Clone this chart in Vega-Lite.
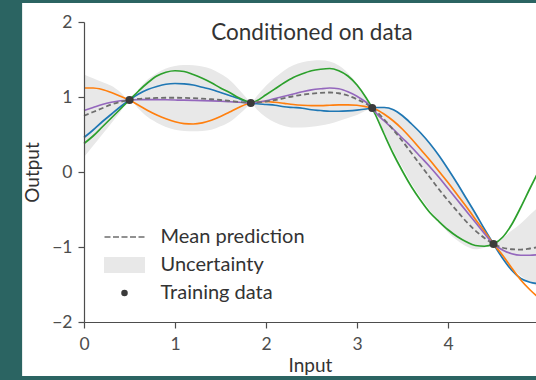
{
  "$schema": "https://vega.github.io/schema/vega-lite/v6.json",
  "width": 452,
  "height": 300,
  "autosize": {"type": "none"},
  "padding": {"left": 84, "top": 22, "right": 0, "bottom": 58},
  "background": "#2b6462",
  "title": {"text": "Conditioned on data", "font": "Lato", "fontSize": 22.5, "fontWeight": "normal", "color": "#333333", "anchor": "middle", "frame": "group", "baseline": "alphabetic", "offset": -19, "dy": 40, "dx": 2, "zindex": 1},
  "config": {
    "font": "Lato",
    "view": {"stroke": null},
    "axis": {"grid": false, "domainColor": "#4d4d4d", "tickColor": "#4d4d4d", "domainWidth": 1.2, "tickWidth": 1.2, "tickSize": 6, "labelFont": "Lato", "labelFontSize": 17.5, "labelColor": "#4d4d4d", "titleFont": "Lato", "titleFontSize": 19, "titleFontWeight": "normal", "titleColor": "#333333", "labelPadding": 6, "labelFlush": false}
  },
  "datasets": {
    "gp": [
      {"x": 0.0, "m": 0.75, "lo": 0.20, "hi": 1.30, "g": 0.38, "b": 0.46, "o": 1.12, "p": 0.82},
      {"x": 0.1, "m": 0.80, "lo": 0.35, "hi": 1.25, "g": 0.48, "b": 0.56, "o": 1.12, "p": 0.86},
      {"x": 0.2, "m": 0.85, "lo": 0.50, "hi": 1.20, "g": 0.60, "b": 0.67, "o": 1.10, "p": 0.90},
      {"x": 0.3, "m": 0.90, "lo": 0.65, "hi": 1.15, "g": 0.72, "b": 0.77, "o": 1.06, "p": 0.93},
      {"x": 0.4, "m": 0.935, "lo": 0.805, "hi": 1.065, "g": 0.84, "b": 0.87, "o": 1.01, "p": 0.95},
      {"x": 0.5, "m": 0.96, "lo": 0.96, "hi": 0.96, "g": 0.96, "b": 0.96, "o": 0.96, "p": 0.96},
      {"x": 0.6, "m": 0.975, "lo": 0.845, "hi": 1.105, "g": 1.08, "b": 1.04, "o": 0.89, "p": 0.965},
      {"x": 0.7, "m": 0.983, "lo": 0.733, "hi": 1.233, "g": 1.19, "b": 1.10, "o": 0.82, "p": 0.965},
      {"x": 0.8, "m": 0.988, "lo": 0.658, "hi": 1.318, "g": 1.28, "b": 1.14, "o": 0.76, "p": 0.965},
      {"x": 0.9, "m": 0.99, "lo": 0.60, "hi": 1.38, "g": 1.33, "b": 1.17, "o": 0.71, "p": 0.963},
      {"x": 1.0, "m": 0.99, "lo": 0.565, "hi": 1.415, "g": 1.35, "b": 1.18, "o": 0.67, "p": 0.96},
      {"x": 1.1, "m": 0.988, "lo": 0.548, "hi": 1.428, "g": 1.34, "b": 1.175, "o": 0.645, "p": 0.958},
      {"x": 1.2, "m": 0.984, "lo": 0.544, "hi": 1.424, "g": 1.30, "b": 1.16, "o": 0.64, "p": 0.955},
      {"x": 1.3, "m": 0.978, "lo": 0.548, "hi": 1.408, "g": 1.25, "b": 1.13, "o": 0.655, "p": 0.952},
      {"x": 1.4, "m": 0.97, "lo": 0.565, "hi": 1.375, "g": 1.19, "b": 1.10, "o": 0.69, "p": 0.948},
      {"x": 1.5, "m": 0.96, "lo": 0.61, "hi": 1.31, "g": 1.12, "b": 1.06, "o": 0.74, "p": 0.943},
      {"x": 1.6, "m": 0.948, "lo": 0.668, "hi": 1.228, "g": 1.06, "b": 1.02, "o": 0.80, "p": 0.937},
      {"x": 1.7, "m": 0.935, "lo": 0.765, "hi": 1.105, "g": 0.99, "b": 0.98, "o": 0.86, "p": 0.93},
      {"x": 1.8, "m": 0.923, "lo": 0.878, "hi": 0.968, "g": 0.935, "b": 0.93, "o": 0.91, "p": 0.922},
      {"x": 1.833, "m": 0.92, "lo": 0.92, "hi": 0.92, "g": 0.92, "b": 0.92, "o": 0.92, "p": 0.92},
      {"x": 1.9, "m": 0.925, "lo": 0.835, "hi": 1.015, "g": 0.95, "b": 0.91, "o": 0.935, "p": 0.93},
      {"x": 2.0, "m": 0.94, "lo": 0.73, "hi": 1.15, "g": 1.03, "b": 0.90, "o": 0.94, "p": 0.95},
      {"x": 2.1, "m": 0.96, "lo": 0.66, "hi": 1.26, "g": 1.11, "b": 0.89, "o": 0.93, "p": 0.98},
      {"x": 2.2, "m": 0.985, "lo": 0.615, "hi": 1.355, "g": 1.19, "b": 0.87, "o": 0.915, "p": 1.01},
      {"x": 2.3, "m": 1.01, "lo": 0.595, "hi": 1.425, "g": 1.26, "b": 0.86, "o": 0.90, "p": 1.04},
      {"x": 2.4, "m": 1.03, "lo": 0.595, "hi": 1.465, "g": 1.31, "b": 0.85, "o": 0.89, "p": 1.07},
      {"x": 2.5, "m": 1.045, "lo": 0.605, "hi": 1.485, "g": 1.35, "b": 0.83, "o": 0.885, "p": 1.095},
      {"x": 2.6, "m": 1.055, "lo": 0.62, "hi": 1.49, "g": 1.37, "b": 0.82, "o": 0.885, "p": 1.11},
      {"x": 2.7, "m": 1.06, "lo": 0.645, "hi": 1.475, "g": 1.38, "b": 0.81, "o": 0.89, "p": 1.12},
      {"x": 2.8, "m": 1.05, "lo": 0.68, "hi": 1.42, "g": 1.35, "b": 0.81, "o": 0.895, "p": 1.11},
      {"x": 2.9, "m": 1.02, "lo": 0.72, "hi": 1.32, "g": 1.28, "b": 0.815, "o": 0.895, "p": 1.07},
      {"x": 3.0, "m": 0.97, "lo": 0.76, "hi": 1.18, "g": 1.16, "b": 0.825, "o": 0.89, "p": 1.01},
      {"x": 3.1, "m": 0.91, "lo": 0.82, "hi": 1.00, "g": 0.99, "b": 0.84, "o": 0.87, "p": 0.93},
      {"x": 3.167, "m": 0.853, "lo": 0.853, "hi": 0.853, "g": 0.853, "b": 0.853, "o": 0.853, "p": 0.853},
      {"x": 3.2, "m": 0.82, "lo": 0.775, "hi": 0.865, "g": 0.77, "b": 0.86, "o": 0.84, "p": 0.80},
      {"x": 3.3, "m": 0.70, "lo": 0.53, "hi": 0.87, "g": 0.50, "b": 0.86, "o": 0.77, "p": 0.68},
      {"x": 3.4, "m": 0.56, "lo": 0.28, "hi": 0.84, "g": 0.24, "b": 0.83, "o": 0.68, "p": 0.57},
      {"x": 3.5, "m": 0.41, "lo": 0.06, "hi": 0.76, "g": 0.01, "b": 0.75, "o": 0.57, "p": 0.45},
      {"x": 3.6, "m": 0.25, "lo": -0.155, "hi": 0.655, "g": -0.20, "b": 0.64, "o": 0.44, "p": 0.33},
      {"x": 3.7, "m": 0.09, "lo": -0.34, "hi": 0.52, "g": -0.38, "b": 0.52, "o": 0.30, "p": 0.20},
      {"x": 3.8, "m": -0.07, "lo": -0.51, "hi": 0.37, "g": -0.54, "b": 0.38, "o": 0.16, "p": 0.07},
      {"x": 3.9, "m": -0.23, "lo": -0.67, "hi": 0.21, "g": -0.66, "b": 0.22, "o": 0.01, "p": -0.07},
      {"x": 4.0, "m": -0.38, "lo": -0.805, "hi": 0.045, "g": -0.77, "b": 0.04, "o": -0.14, "p": -0.22},
      {"x": 4.1, "m": -0.52, "lo": -0.91, "hi": -0.13, "g": -0.86, "b": -0.15, "o": -0.30, "p": -0.37},
      {"x": 4.2, "m": -0.66, "lo": -0.99, "hi": -0.33, "g": -0.93, "b": -0.35, "o": -0.46, "p": -0.52},
      {"x": 4.3, "m": -0.78, "lo": -1.03, "hi": -0.53, "g": -0.98, "b": -0.55, "o": -0.63, "p": -0.67},
      {"x": 4.4, "m": -0.88, "lo": -1.01, "hi": -0.75, "g": -0.99, "b": -0.76, "o": -0.79, "p": -0.82},
      {"x": 4.5, "m": -0.96, "lo": -0.96, "hi": -0.96, "g": -0.96, "b": -0.96, "o": -0.96, "p": -0.96},
      {"x": 4.6, "m": -1.01, "lo": -1.14, "hi": -0.88, "g": -0.87, "b": -1.15, "o": -1.11, "p": -1.04},
      {"x": 4.7, "m": -1.03, "lo": -1.28, "hi": -0.78, "g": -0.70, "b": -1.31, "o": -1.28, "p": -1.09},
      {"x": 4.8, "m": -1.035, "lo": -1.385, "hi": -0.685, "g": -0.47, "b": -1.42, "o": -1.44, "p": -1.11},
      {"x": 4.9, "m": -1.02, "lo": -1.47, "hi": -0.57, "g": -0.22, "b": -1.47, "o": -1.57, "p": -1.11},
      {"x": 5.0, "m": -1.0, "lo": -1.54, "hi": -0.46, "g": 0.02, "b": -1.49, "o": -1.68, "p": -1.10}
    ],
    "train": [
      {"x": 0.5, "y": 0.96, "kind": "Training data"},
      {"x": 1.833, "y": 0.92, "kind": "Training data"},
      {"x": 3.167, "y": 0.853, "kind": "Training data"},
      {"x": 4.5, "y": -0.96, "kind": "Training data"}
    ]
  },
  "layer": [
    {
      "data": {"values": [{}]},
      "mark": {"type": "rect", "color": "white", "clip": false},
      "encoding": {
        "x": {"datum": -0.68, "type": "quantitative", "scale": {"domain": [0, 4.967]}, "title": "Input", "axis": {"zindex": 1, "values": [0, 1, 2, 3, 4], "format": "d", "titlePadding": 4, "labelPadding": 7}},
        "x2": {"datum": 5.2},
        "y": {"datum": 2.253, "type": "quantitative", "scale": {"domain": [-2, 2]}, "title": "Output", "axis": {"zindex": 1, "values": [-2, -1, 0, 1, 2], "format": "d", "titlePadding": 9}},
        "y2": {"datum": -2.72}
      }
    },
    {
      "data": {"name": "gp"},
      "mark": {"type": "area", "color": "#e8e8e8", "opacity": 1, "interpolate": "monotone"},
      "encoding": {
        "x": {"field": "x", "type": "quantitative", "scale": {"domain": [0, 4.967]}, "title": "Input", "axis": {"zindex": 1, "values": [0, 1, 2, 3, 4], "format": "d", "titlePadding": 4, "labelPadding": 7}},
        "y": {"field": "lo", "type": "quantitative", "scale": {"domain": [-2, 2]}, "title": "Output", "axis": {"zindex": 1, "values": [-2, -1, 0, 1, 2], "format": "d", "titlePadding": 9}},
        "y2": {"field": "hi"}
      }
    },
    {
      "data": {"name": "gp"},
      "mark": {"type": "line", "color": "#1f77b4", "strokeWidth": 1.7, "interpolate": "monotone"},
      "encoding": {
        "x": {"field": "x", "type": "quantitative", "scale": {"domain": [0, 4.967]}, "title": "Input", "axis": {"zindex": 1, "values": [0, 1, 2, 3, 4], "format": "d", "titlePadding": 4, "labelPadding": 7}},
        "y": {"field": "b", "type": "quantitative", "scale": {"domain": [-2, 2]}, "title": "Output", "axis": {"zindex": 1, "values": [-2, -1, 0, 1, 2], "format": "d", "titlePadding": 9}}
      }
    },
    {
      "data": {"name": "gp"},
      "mark": {"type": "line", "color": "#ff7f0e", "strokeWidth": 1.7, "interpolate": "monotone"},
      "encoding": {
        "x": {"field": "x", "type": "quantitative", "scale": {"domain": [0, 4.967]}, "title": "Input", "axis": {"zindex": 1, "values": [0, 1, 2, 3, 4], "format": "d", "titlePadding": 4, "labelPadding": 7}},
        "y": {"field": "o", "type": "quantitative", "scale": {"domain": [-2, 2]}, "title": "Output", "axis": {"zindex": 1, "values": [-2, -1, 0, 1, 2], "format": "d", "titlePadding": 9}}
      }
    },
    {
      "data": {"name": "gp"},
      "mark": {"type": "line", "color": "#2ca02c", "strokeWidth": 1.7, "interpolate": "monotone"},
      "encoding": {
        "x": {"field": "x", "type": "quantitative", "scale": {"domain": [0, 4.967]}, "title": "Input", "axis": {"zindex": 1, "values": [0, 1, 2, 3, 4], "format": "d", "titlePadding": 4, "labelPadding": 7}},
        "y": {"field": "g", "type": "quantitative", "scale": {"domain": [-2, 2]}, "title": "Output", "axis": {"zindex": 1, "values": [-2, -1, 0, 1, 2], "format": "d", "titlePadding": 9}}
      }
    },
    {
      "data": {"name": "gp"},
      "mark": {"type": "line", "color": "#9467bd", "strokeWidth": 1.7, "interpolate": "monotone"},
      "encoding": {
        "x": {"field": "x", "type": "quantitative", "scale": {"domain": [0, 4.967]}, "title": "Input", "axis": {"zindex": 1, "values": [0, 1, 2, 3, 4], "format": "d", "titlePadding": 4, "labelPadding": 7}},
        "y": {"field": "p", "type": "quantitative", "scale": {"domain": [-2, 2]}, "title": "Output", "axis": {"zindex": 1, "values": [-2, -1, 0, 1, 2], "format": "d", "titlePadding": 9}}
      }
    },
    {
      "data": {"name": "gp"},
      "mark": {"type": "line", "color": "#6e6e6e", "strokeWidth": 1.8, "strokeDash": [5, 3], "interpolate": "monotone"},
      "encoding": {
        "x": {"field": "x", "type": "quantitative", "scale": {"domain": [0, 4.967]}, "title": "Input", "axis": {"zindex": 1, "values": [0, 1, 2, 3, 4], "format": "d", "titlePadding": 4, "labelPadding": 7}},
        "y": {"field": "m", "type": "quantitative", "scale": {"domain": [-2, 2]}, "title": "Output", "axis": {"zindex": 1, "values": [-2, -1, 0, 1, 2], "format": "d", "titlePadding": 9}}
      }
    },
    {
      "data": {"name": "train"},
      "mark": {"type": "point", "filled": true, "size": 64, "opacity": 1},
      "encoding": {
        "x": {"field": "x", "type": "quantitative", "scale": {"domain": [0, 4.967]}, "title": "Input", "axis": {"zindex": 1, "values": [0, 1, 2, 3, 4], "format": "d", "titlePadding": 4, "labelPadding": 7}},
        "y": {"field": "y", "type": "quantitative", "scale": {"domain": [-2, 2]}, "title": "Output", "axis": {"zindex": 1, "values": [-2, -1, 0, 1, 2], "format": "d", "titlePadding": 9}},
        "color": {
          "field": "kind", "type": "nominal",
          "scale": {"domain": ["Mean prediction", "Uncertainty", "Training data"], "range": ["#6e6e6e", "#e8e8e8", "#3a3a3a"]},
          "legend": {"orient": "none", "legendX": 30.5, "legendY": 205, "title": null, "padding": 0, "labelFont": "Lato", "labelFontSize": 20, "labelColor": "#333333", "labelOffset": 26, "symbolSize": 43, "symbolStrokeWidth": 0, "rowPadding": 8, "zindex": 1}
        },
        "shape": {
          "field": "kind", "type": "nominal",
          "scale": {"domain": ["Mean prediction", "Uncertainty", "Training data"], "range": ["M-6.1,-0.25H-4.27V0.25H-6.1Z M-3.51,-0.25H-1.68V0.25H-3.51Z M-0.92,-0.25H0.92V0.25H-0.92Z M1.68,-0.25H3.51V0.25H1.68Z M4.27,-0.25H6.1V0.25H4.27Z", "M-6.25,-2.45H6.25V2.45H-6.25Z", "circle"]},
          "legend": {"orient": "none", "legendX": 30.5, "legendY": 205, "title": null, "padding": 0, "labelFont": "Lato", "labelFontSize": 20, "labelColor": "#333333", "labelOffset": 26, "symbolSize": 43, "symbolStrokeWidth": 0, "rowPadding": 8, "zindex": 1}
        }
      }
    }
  ]
}
